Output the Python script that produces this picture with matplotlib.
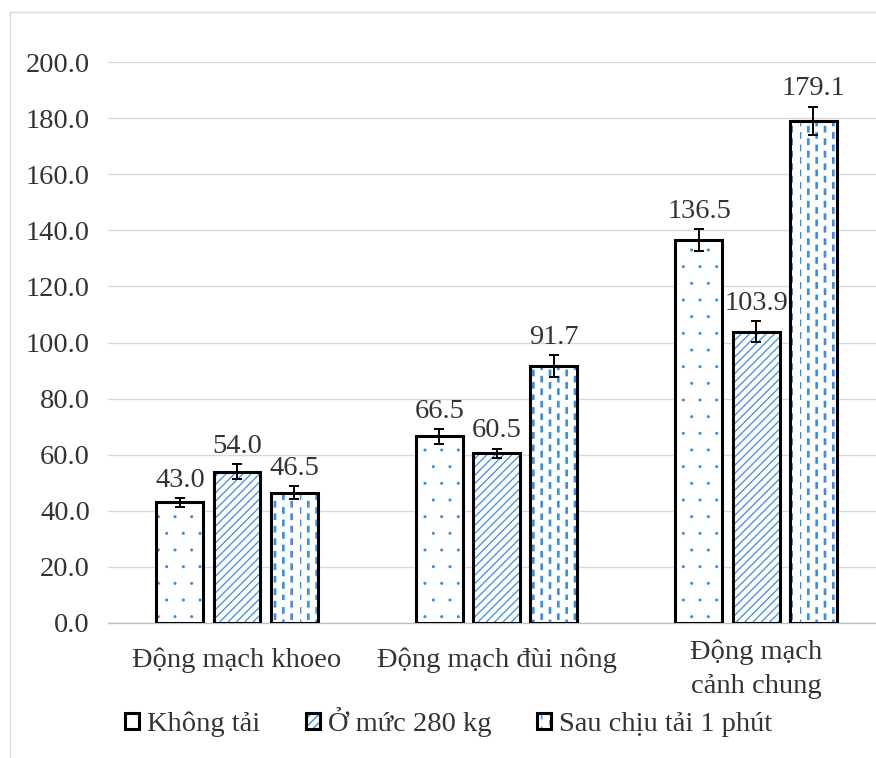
import numpy as np
import matplotlib
matplotlib.use("Agg")
import matplotlib.pyplot as plt
import matplotlib.hatch as mhatch
from matplotlib.path import Path
from matplotlib.patches import Rectangle
from matplotlib.colors import to_rgba
import matplotlib.transforms as mtransforms

# ---------------- data ----------------
categories = ["Động mạch khoeo", "Động mạch đùi nông", "Động mạch\ncảnh chung"]
series_names = ["Không tải", "Ở mức 280 kg", "Sau chịu tải 1 phút"]
khong_tai = [43.0, 66.5, 136.5]
muc_280 = [54.0, 60.5, 103.9]
sau_1_phut = [46.5, 91.7, 179.1]
err_khong_tai = [1.6, 2.7, 3.9]
err_muc_280 = [2.8, 1.7, 3.6]
err_sau_1_phut = [2.2, 3.9, 5.0]
yticks = [0, 20, 40, 60, 80, 100, 120, 140, 160, 180, 200]


# ------------- custom hatches -------------
class DashedVertical(mhatch.HatchPatternBase):
    """dashed vertical lines, staggered (replaces '|')"""
    def __init__(self, hatch, density):
        self.num_cols = int(hatch.count('|') * 6)
        self.num_dashes = 8
        self.num_vertices = self.num_cols * self.num_dashes * 2

    def set_vertices_and_codes(self, vertices, codes):
        n, m = self.num_cols, self.num_dashes
        k = 0
        for i in range(n):
            xx = i / n
            phase = 0.0 if i % 2 == 0 else 0.5
            for j in range(m):
                y0 = (j + phase) / m
                y1 = (j + phase + 0.33) / m
                vertices[k] = (xx, y0)
                vertices[k + 1] = (xx, y1)
                codes[k] = Path.MOVETO
                codes[k + 1] = Path.LINETO
                k += 2


class TinyDots(mhatch.SmallFilledCircles):
    size = 0.05


mhatch._hatch_types[mhatch._hatch_types.index(mhatch.VerticalHatch)] = DashedVertical
mhatch._hatch_types[mhatch._hatch_types.index(mhatch.SmallFilledCircles)] = TinyDots

plt.rcParams['font.family'] = ['Liberation Serif', 'DejaVu Serif']
plt.rcParams['hatch.linewidth'] = 1.0

FS = 20.5
TXT = '#333333'
BLUE = '#3a8ee0'

fig = plt.figure(figsize=(8.76, 7.58), dpi=100)
ax = fig.add_axes([108 / 876, 135 / 758, (876 - 108) / 876, 561 / 758])

x = np.arange(len(categories))
w = 0.181
off = 0.22
hatches = ['.', '////', '||']
hatch_lw = [1.0, 0.9, 1.9]
data = [khong_tai, muc_280, sau_1_phut]
errs = [err_khong_tai, err_muc_280, err_sau_1_phut]

handles = []
for k in range(3):
    xs = x + (k - 1) * off
    bars = ax.bar(xs, data[k], width=w, facecolor='white', edgecolor='black',
                  linewidth=2.2, hatch=hatches[k], zorder=3, label=series_names[k])
    for p in bars:
        p._hatch_color = to_rgba(BLUE)
        if hasattr(p, 'set_hatch_linewidth'):
            p.set_hatch_linewidth(hatch_lw[k])
    handles.append(bars)
    ax.errorbar(xs, data[k], yerr=errs[k], fmt='none', ecolor='black',
                elinewidth=1.4, capsize=3.6, capthick=1.4, zorder=4)
    for xi, v, e in zip(xs, data[k], errs[k]):
        ax.annotate(f'{v:.1f}', (xi, v + e), xytext=(0, 8), textcoords='offset points',
                    ha='center', va='baseline', fontsize=FS, color=TXT, zorder=5)

ax.set_xlim(-0.497, 2.462)
ax.set_ylim(0, 200)
ax.set_yticks(yticks)
ax.set_yticklabels([f'{t:.1f}' for t in yticks])
ax.tick_params(axis='y', length=0, pad=13, labelsize=FS, labelcolor=TXT)
ax.set_xticks([])
ax.grid(axis='y', color='#d9d9d9', linewidth=1, zorder=0)
ax.set_axisbelow(True)
for s in ['top', 'right', 'left']:
    ax.spines[s].set_visible(False)
ax.spines['bottom'].set_color('#bfbfbf')
ax.spines['bottom'].set_linewidth(1)

trans = mtransforms.blended_transform_factory(ax.transData, ax.transAxes)
for xi, lab in zip(x, categories):
    yy = -0.082 if '\n' in lab else -0.066
    ax.text(xi, yy, lab, transform=trans, ha='center', va='center', fontsize=FS,
            color=TXT, linespacing=1.45)

leg = fig.legend(handles=handles, labels=series_names, loc='center left',
                 bbox_to_anchor=(125 / 876, 1 - 722 / 758), bbox_transform=fig.transFigure,
                 ncol=3, frameon=False, fontsize=FS, handlelength=0.5, handleheight=0.5,
                 handletextpad=0.27, columnspacing=1.6, borderpad=0, borderaxespad=0)
for t in leg.get_texts():
    t.set_color(TXT)

fig.add_artist(Rectangle((10 / 876, -0.5), 5, 0.5 + (758 - 12) / 758,
                         transform=fig.transFigure, fill=False, edgecolor='#d9d9d9',
                         linewidth=1))

fig.savefig('out.png', dpi=100)
